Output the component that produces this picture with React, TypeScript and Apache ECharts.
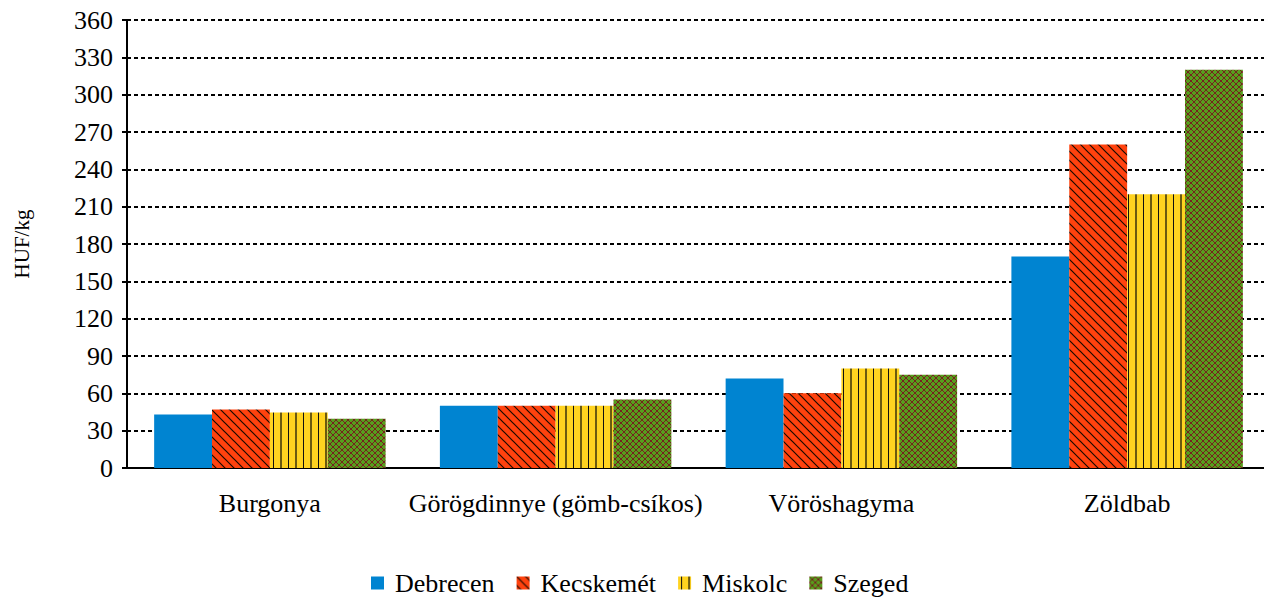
import React, { useEffect, useRef } from "react";
import * as echarts from "echarts";

const categories = ["Burgonya", "Görögdinnye (gömb-csíkos)", "Vöröshagyma", "Zöldbab"];
const seriesNames = ["Debrecen", "Kecskemét", "Miskolc", "Szeged"];
const debrecen = [43, 50, 72, 170];
const kecskemet = [47, 50, 60, 260];
const miskolc = [44.5, 50, 80, 220];
const szeged = [39.5, 55, 75, 320];
const yTicks = { min: 0, max: 360, interval: 30 };

const FONT = "'Liberation Serif', 'Times New Roman', Times, serif";

function makeCanvas(w: number, h: number, draw: (ctx: CanvasRenderingContext2D) => void) {
  const c = document.createElement("canvas");
  c.width = w;
  c.height = h;
  const ctx = c.getContext("2d") as CanvasRenderingContext2D;
  draw(ctx);
  return { image: c, repeat: "repeat" } as any;
}

function diagonalPattern() {
  const s = 9;
  return makeCanvas(s, s, (ctx) => {
    ctx.fillStyle = "#FF420E";
    ctx.fillRect(0, 0, s, s);
    ctx.strokeStyle = "#1a0a00";
    ctx.lineWidth = 1.2;
    ctx.beginPath();
    ctx.moveTo(-1, -1);
    ctx.lineTo(s + 1, s + 1);
    ctx.moveTo(-1, s - 1);
    ctx.lineTo(1, s + 1);
    ctx.moveTo(s - 1, -1);
    ctx.lineTo(s + 1, 1);
    ctx.stroke();
  });
}

function verticalPattern() {
  return makeCanvas(15, 2, (ctx) => {
    ctx.fillStyle = "#FFD320";
    ctx.fillRect(0, 0, 15, 2);
    ctx.fillStyle = "#111111";
    ctx.fillRect(3, 0, 1, 2);
    ctx.fillStyle = "#6b5a10";
    ctx.fillRect(10, 0, 2, 2);
  });
}

function crossPattern() {
  return makeCanvas(6, 6, (ctx) => {
    ctx.fillStyle = "#579D1C";
    ctx.fillRect(0, 0, 6, 6);
    ctx.strokeStyle = "#7E0021";
    ctx.lineWidth = 0.8;
    ctx.beginPath();
    ctx.moveTo(-1, -1);
    ctx.lineTo(7, 7);
    ctx.moveTo(-1, 7);
    ctx.lineTo(7, -1);
    ctx.stroke();
  });
}

export default function App() {
  const ref = useRef<HTMLDivElement>(null);
  useEffect(() => {
    if (!ref.current) return;
    const chart = echarts.init(ref.current, null, { renderer: "svg" });
    const fills: any[] = ["#0084D1", diagonalPattern(), verticalPattern(), crossPattern()];
    const data = [debrecen, kecskemet, miskolc, szeged];
    const txt = { fontFamily: FONT, fontSize: 26, color: "#000", fontWeight: "normal" as const };
    chart.setOption({
      animation: false,
      textStyle: { ...txt },
      grid: { left: 127, right: 0, top: 20, bottom: 130 },
      legend: {
        bottom: -3,
        left: 366,
        itemWidth: 13,
        itemHeight: 13,
        itemGap: 22,
        icon: "rect",
        textStyle: { ...txt, padding: [0, 0, 0, 6] },
        data: seriesNames,
      },
      xAxis: {
        type: "category",
        data: categories,
        axisLine: { lineStyle: { color: "#000", width: 2 } },
        axisTick: { interval: 0, length: 10, lineStyle: { color: "#000", width: 2 } },
        axisLabel: { ...txt, interval: 0, margin: 22 },
      },
      yAxis: {
        type: "value",
        min: yTicks.min,
        max: yTicks.max,
        interval: yTicks.interval,
        name: "HUF/kg",
        nameLocation: "middle",
        nameGap: 95,
        nameTextStyle: { ...txt, fontSize: 21 },
        axisLine: { show: true, lineStyle: { color: "#000", width: 2 } },
        axisTick: { show: true, length: 5, lineStyle: { color: "#000", width: 2 } },
        axisLabel: { ...txt, margin: 14 },
        splitLine: { lineStyle: { color: "#000", width: 2, type: [4, 3] } },
      },
      series: seriesNames.map((name, i) => ({
        name,
        type: "bar",
        data: data[i],
        barGap: "0%",
        barCategoryGap: "19%",
        itemStyle: { color: fills[i] },
      })),
    });
    return () => chart.dispose();
  }, []);
  return (
    <div style={{ position: "absolute", left: 0, top: 0, width: 1264, height: 598, overflow: "hidden", background: "#fff" }}>
      <div ref={ref} style={{ position: "absolute", left: 0, top: 0, width: 1270, height: 598 }} />
    </div>
  );
}
